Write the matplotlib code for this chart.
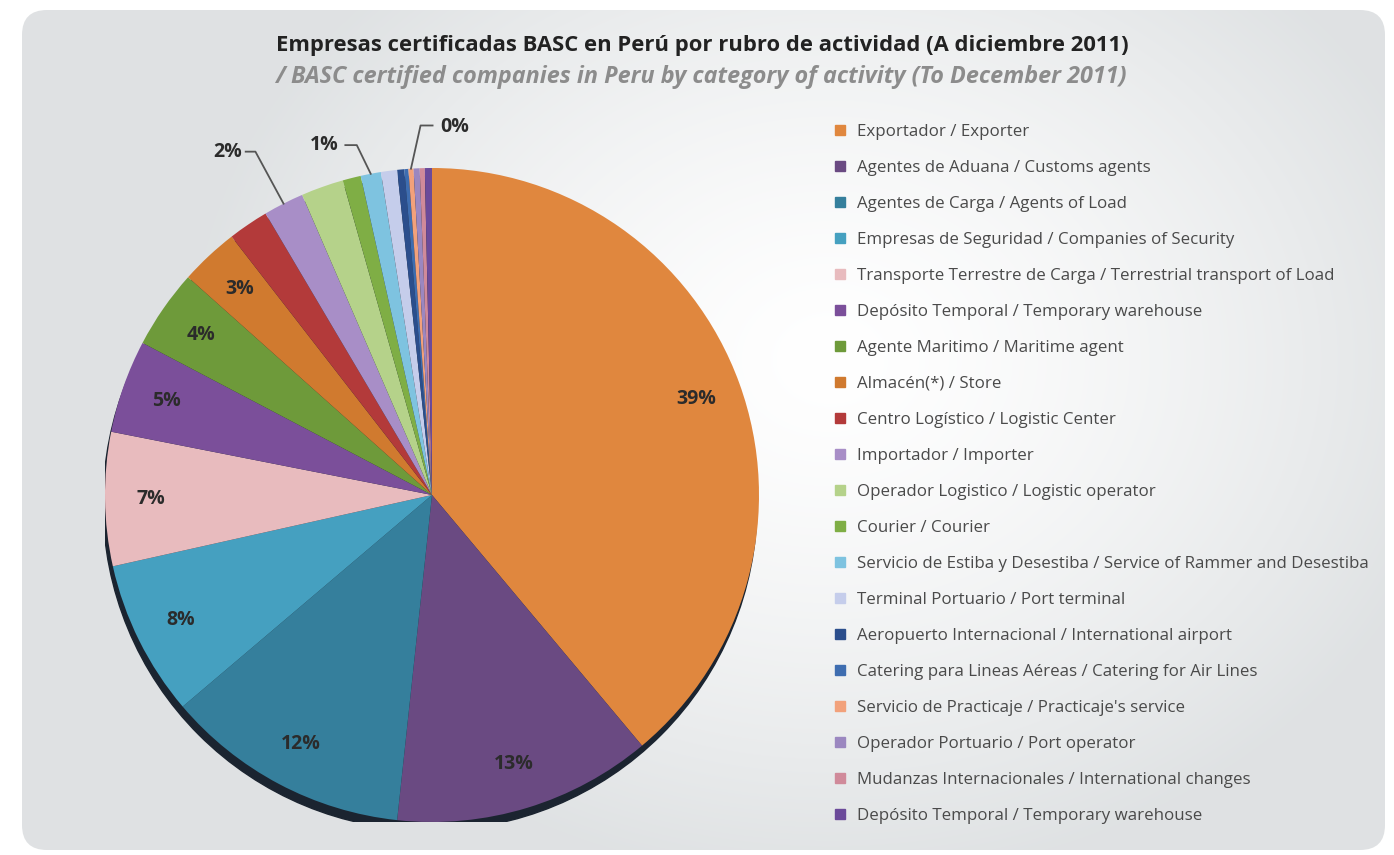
import numpy as np
from matplotlib import pyplot as plt
from matplotlib.patches import FancyBboxPatch, Circle
from matplotlib.lines import Line2D

rubros = [
    "Exportador / Exporter",
    "Agentes de Aduana / Customs agents",
    "Agentes de Carga / Agents of Load",
    "Empresas de Seguridad / Companies of Security",
    "Transporte Terrestre de Carga / Terrestrial transport of Load",
    "Depósito Temporal / Temporary warehouse",
    "Agente Maritimo / Maritime agent",
    "Almacén(*) / Store",
    "Centro Logístico / Logistic Center",
    "Importador / Importer",
    "Operador Logistico / Logistic operator",
    "Courier / Courier",
    "Servicio de Estiba y Desestiba / Service of Rammer and Desestiba",
    "Terminal Portuario / Port terminal",
    "Aeropuerto Internacional / International airport",
    "Catering para Lineas Aéreas / Catering for Air Lines",
    "Servicio de Practicaje / Practicaje's service",
    "Operador Portuario / Port operator",
    "Mudanzas Internacionales / International changes",
    "Depósito Temporal / Temporary warehouse",
]
valores = [38.9, 12.8, 12.1, 7.7, 6.6, 4.6, 3.9, 2.9, 2.0, 2.0,
           2.1, 0.9, 1.0, 0.8, 0.35, 0.2, 0.25, 0.3, 0.25, 0.35]
colores = ["#E0873E", "#6A4A82", "#357F9C", "#45A0C0", "#E8BBBE",
           "#7B4F9A", "#6E9A3A", "#D07A2F", "#B33A3A", "#A88EC7",
           "#B5D28A", "#7FAE45", "#7EC3E0", "#C5CDEB", "#2B4E8C",
           "#3E6DB0", "#F2A17B", "#9B87C0", "#D08A9A", "#6B4A9A"]

# porcentajes fuera del circulo (indice de la porcion)
externos = [9, 12, 16]

titulo = "Empresas certificadas BASC en Perú por rubro de actividad (A diciembre 2011)"
subtitulo = "/ BASC certified companies in Peru by category of activity (To December 2011)"

plt.rcParams['font.family'] = ['Open Sans', 'DejaVu Sans']

W, H = 1394, 855
fig = plt.figure(figsize=(W / 100, H / 100), dpi=100)

# fondo con degradado y esquinas redondeadas
bg = fig.add_axes([0, 0, 1, 1])
yy, xx = np.mgrid[0:H, 0:W]
d = np.sqrt(((xx - 830) / 640) ** 2 + ((yy - 360) / 520) ** 2)
d = np.clip(d, 0, 1) ** 1.4
c0 = np.array([1.0, 1.0, 1.0])
c1 = np.array([0.875, 0.886, 0.892])
img = c0 + (c1 - c0) * d[..., None]
im = bg.imshow(img, extent=(0, W, H, 0), zorder=0)
bg.set_xlim(0, W)
bg.set_ylim(H, 0)
bg.set_aspect('auto')
bg.axis('off')
panel = FancyBboxPatch((22, 10), 1363, 840, boxstyle="round,pad=0,rounding_size=25",
                       transform=bg.transData, facecolor='none', edgecolor='none')
bg.add_patch(panel)
im.set_clip_path(panel)

# torta
R = 327
cx, cy = 432, 495
ax = fig.add_axes([(cx - R) / W, (H - cy - R) / H, 2 * R / W, 2 * R / H])
ax.add_patch(Circle((-0.006, -0.026), 1.0, color="#1b2430", zorder=0))


def etiqueta(p):
    return "%d%%" % round(p) if p >= 2.5 else ""


wedges, texts, autotexts = ax.pie(valores, colors=colores, startangle=90, counterclock=False,
                                  radius=1, autopct=etiqueta, pctdistance=0.86,
                                  wedgeprops=dict(linewidth=0),
                                  textprops=dict(fontsize=14, fontweight='bold', color="#2b2b2b"))
ax.set_xlim(-1, 1)
ax.set_ylim(-1, 1)
ax.axis('off')

total = sum(valores)
pos_texto = [(-0.625, 1.05), (-0.33, 1.07), (0.07, 1.125)]
pos_codo = [(-0.54, 1.05), (-0.23, 1.07), (-0.035, 1.13)]
for i, (tx, ty), (ex, ey) in zip(externos, pos_texto, pos_codo):
    w = wedges[i]
    ang = np.deg2rad((w.theta1 + w.theta2) / 2)
    px, py = np.cos(ang), np.sin(ang)
    ax.plot([px, ex, ex + (tx - ex) * 0.35], [py, ey, ey],
            color="#555555", lw=1.3, clip_on=False)
    ax.text(tx, ty, "%d%%" % round(valores[i] / total * 100), ha='center', va='center',
            fontsize=14, fontweight='bold', color="#2b2b2b", clip_on=False)

# titulos
fig.text(702 / W, 1 - 45 / H, titulo, ha='center', va='center', fontsize=15.8,
         fontweight='bold', color="#222222")
fig.text(701 / W, 1 - 77 / H, subtitulo, ha='center', va='center', fontsize=16.8,
         fontweight='bold', fontstyle='italic', color="#8c8c8c")

# leyenda
handles = [Line2D([], [], marker='s', linestyle='none', markersize=6.5, color=c) for c in colores]
fig.legend(handles, rubros, loc='upper left', bbox_to_anchor=(832 / W, 1 - 124 / H),
           frameon=False, fontsize=12.2, labelspacing=1.18, handletextpad=0.5,
           handlelength=1.0, labelcolor="#4a4a4a", borderpad=0, borderaxespad=0)

fig.savefig("out.png", dpi=100)
